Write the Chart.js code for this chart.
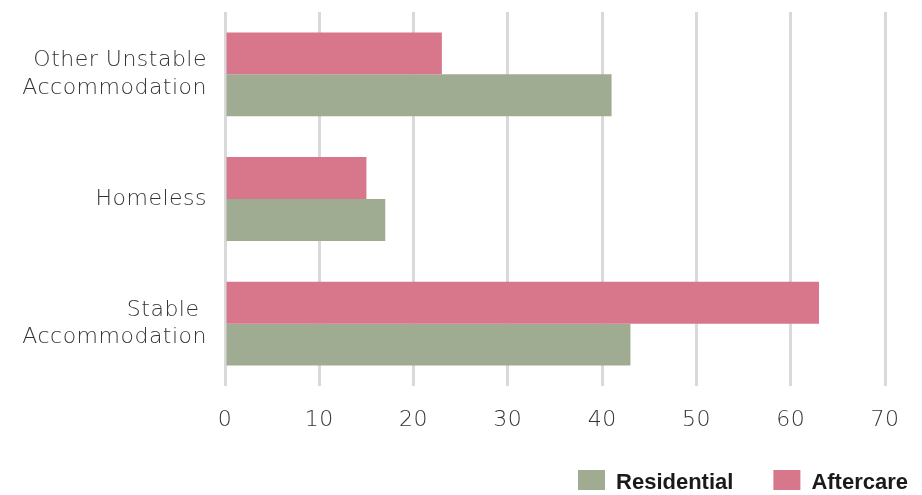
<!DOCTYPE html>
<html>
<head>
<meta charset="utf-8">
<script src="https://cdn.jsdelivr.net/npm/chart.js@4/dist/chart.umd.min.js"></script>
<style>
  html, body { margin: 0; padding: 0; background: #ffffff; }
  #wrap { width: 922px; height: 495px; position: relative; }
</style>
</head>
<body>
<div id="wrap"><canvas id="chart"></canvas></div>
<script>
// Accommodation status by service type
const categories = [
  ['Other Unstable', 'Accommodation'],
  'Homeless',
  ['Stable ', 'Accommodation']
];
const aftercareValues = [23, 15, 63];
const residentialValues = [41, 17, 43];
const xTicks = [0, 10, 20, 30, 40, 50, 60, 70];

const labelFont = { family: '"DejaVu Sans", sans-serif', size: 22, weight: '200', lineHeight: 1.25 };

// Plot area edges inside the 922x495 canvas
const AREA_LEFT = 225;
const AREA_BOTTOM = 386;
const LEGEND_HEIGHT = 60;

const layoutPlugin = {
  id: 'layoutTweaks',
  beforeLayout(chart) {
    const lg = chart.legend;
    if (lg && !lg._wrapped) {
      // fixed legend band so the x axis keeps room for its labels
      const origFit = lg.fit.bind(lg);
      lg.fit = function () { origFit(); this.height = LEGEND_HEIGHT; };
      // legend text keeps normal letter spacing
      const origDraw = lg.draw.bind(lg);
      lg.draw = function () {
        const ctx = chart.ctx;
        ctx.save();
        ctx.letterSpacing = '0px';
        origDraw();
        ctx.restore();
      };
      lg._wrapped = true;
    }
  },
  afterLayout(chart) {
    const lg = chart.legend;
    if (lg) {
      // right-align the legend items near the canvas edge, boxes at the bottom
      const dx = 948 - lg.right;
      lg.left += dx; lg.right += dx;
      const dy = 430 - lg.top;
      lg.top += dy; lg.bottom += dy;
    }
  },
  beforeDraw(chart) { chart.ctx.letterSpacing = '0.5px'; },
  afterDraw(chart) { chart.ctx.letterSpacing = '0px'; }
};

new Chart(document.getElementById('chart'), {
  type: 'bar',
  data: {
    labels: categories,
    datasets: [
      {
        label: 'Aftercare',
        data: aftercareValues,
        backgroundColor: '#d8768c',
        borderWidth: 0
      },
      {
        label: 'Residential',
        data: residentialValues,
        backgroundColor: '#a0ac92',
        borderWidth: 0
      }
    ]
  },
  options: {
    indexAxis: 'y',
    responsive: true,
    maintainAspectRatio: false,
    animation: false,
    layout: { padding: { top: 12, right: 37, left: 0, bottom: 0 } },
    datasets: {
      bar: { barPercentage: 1, categoryPercentage: 0.672 }
    },
    scales: {
      x: {
        min: 0,
        max: 70,
        afterBuildTicks: (axis) => { axis.ticks = xTicks.map(v => ({ value: v })); },
        afterFit: (axis) => {
          axis.height = 495 - AREA_BOTTOM - LEGEND_HEIGHT;
          axis.paddingLeft = 0;
          axis.paddingRight = 0;
        },
        grid: { color: '#d9d9d9', lineWidth: 3, drawTicks: false },
        border: { display: false },
        ticks: { color: '#333333', font: labelFont, padding: 21 }
      },
      y: {
        afterFit: (axis) => {
          axis.width = AREA_LEFT;
          axis.paddingTop = 0;
          axis.paddingBottom = 0;
        },
        grid: { display: false, drawTicks: false },
        border: { display: false },
        ticks: { color: '#333333', font: labelFont, padding: 18, crossAlign: 'near' }
      }
    },
    plugins: {
      tooltip: { enabled: false },
      legend: {
        position: 'bottom',
        align: 'end',
        reverse: true,
        labels: {
          boxWidth: 27,
          boxHeight: 25,
          padding: 40,
          color: '#1a1a1a',
          font: { family: '"Liberation Sans", Arial, sans-serif', size: 22, weight: 'bold' }
        }
      }
    }
  },
  plugins: [layoutPlugin]
});
</script>
</body>
</html>
